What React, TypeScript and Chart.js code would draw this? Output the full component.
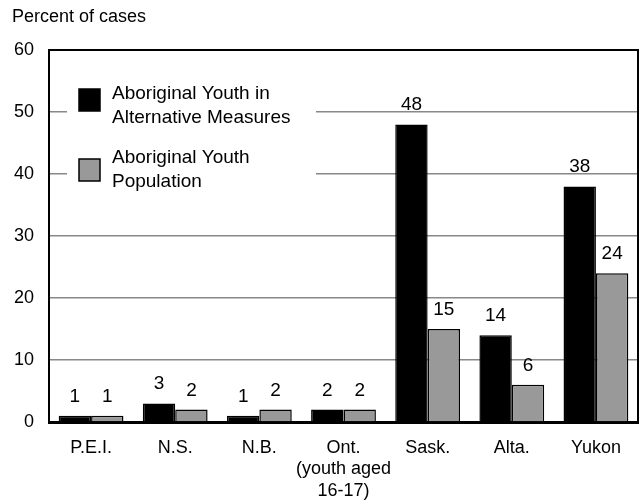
import React, { useEffect, useRef } from "react";
import { Chart, registerables } from "chart.js";

Chart.register(...registerables);

const categories: (string | string[])[] = [
  "P.E.I.",
  "N.S.",
  "N.B.",
  ["Ont.", "(youth aged", "16-17)"],
  "Sask.",
  "Alta.",
  "Yukon",
];
const altMeasures = [1, 3, 1, 2, 48, 14, 38];
const population = [1, 2, 2, 2, 15, 6, 24];
const seriesNames = [
  ["Aboriginal Youth in", "Alternative Measures"],
  ["Aboriginal Youth", "Population"],
];
const yTicks = [0, 10, 20, 30, 40, 50, 60];
const yTitle = "Percent of cases";

const FONT = "'Liberation Sans', Arial, sans-serif";
const BLACK = "#000000";
const GRAY = "#999999";

const overlayPlugin = {
  id: "overlay",
  afterDraw(chart: any) {
    const ctx = chart.ctx;
    const ca = chart.chartArea;
    ctx.save();
    // legend background
    ctx.fillStyle = "#ffffff";
    ctx.fillRect(ca.left + 18, ca.top + 2, 249, 146);
    // legend items
    const colors = [BLACK, GRAY];
    const sqTops = [39, 109];
    const textTops = [44, 108];
    ctx.font = `19px ${FONT}`;
    ctx.textBaseline = "middle";
    ctx.textAlign = "left";
    colors.forEach((c, i) => {
      ctx.fillStyle = c;
      ctx.fillRect(ca.left + 30, ca.top + sqTops[i], 21, 22);
      ctx.strokeStyle = BLACK;
      ctx.lineWidth = 1.5;
      ctx.strokeRect(ca.left + 30, ca.top + sqTops[i], 21, 22);
      ctx.fillStyle = BLACK;
      seriesNames[i].forEach((line, j) => {
        ctx.fillText(line, ca.left + 63, ca.top + textTops[i] + j * 24);
      });
    });
    // data labels
    ctx.font = `19px ${FONT}`;
    ctx.textAlign = "center";
    ctx.textBaseline = "alphabetic";
    ctx.fillStyle = BLACK;
    chart.data.datasets.forEach((ds: any, di: number) => {
      const meta = chart.getDatasetMeta(di);
      meta.data.forEach((el: any, k: number) => {
        ctx.fillText(String(ds.data[k]), el.x, el.y - 14);
      });
    });
    // frame top and right
    ctx.strokeStyle = BLACK;
    ctx.lineWidth = 2;
    ctx.beginPath();
    ctx.moveTo(ca.left, ca.top);
    ctx.lineTo(ca.right, ca.top);
    ctx.lineTo(ca.right, ca.bottom);
    ctx.stroke();
    // title
    ctx.font = `18px ${FONT}`;
    ctx.textAlign = "left";
    ctx.textBaseline = "middle";
    ctx.fillText(yTitle, 12, 17);
    ctx.restore();
  },
};

export default function App() {
  const ref = useRef<HTMLCanvasElement | null>(null);
  useEffect(() => {
    if (!ref.current) return;
    const chart = new Chart(ref.current, {
      type: "bar",
      data: {
        labels: categories as any,
        datasets: [
          {
            label: seriesNames[0].join(" "),
            data: altMeasures,
            backgroundColor: BLACK,
            borderColor: BLACK,
            borderWidth: 1.5,
            categoryPercentage: 0.77,
            barPercentage: 1,
          },
          {
            label: seriesNames[1].join(" "),
            data: population,
            backgroundColor: GRAY,
            borderColor: BLACK,
            borderWidth: 1.5,
            categoryPercentage: 0.77,
            barPercentage: 1,
          },
        ],
      },
      options: {
        responsive: false,
        animation: false,
        layout: { padding: { left: 0, right: 3, top: 50, bottom: 0 } },
        plugins: {
          legend: { display: false },
          tooltip: { enabled: false },
          title: { display: false },
        },
        scales: {
          x: {
            grid: { display: false, drawTicks: false },
            border: { display: true, color: BLACK, width: 3 },
            ticks: {
              color: BLACK,
              font: { family: FONT, size: 18, lineHeight: 1.2 },
              padding: 15,
              maxRotation: 0,
              autoSkip: false,
            },
            afterFit(scale: any) {
              scale.height = 81;
            },
          },
          y: {
            min: 0,
            max: 60,
            afterBuildTicks(scale: any) {
              scale.ticks = yTicks.map((v) => ({ value: v }));
            },
            grid: { color: "#888888", lineWidth: 1.5, drawTicks: false },
            border: { display: true, color: BLACK, width: 2 },
            ticks: {
              color: BLACK,
              font: { family: FONT, size: 18 },
              padding: 15,
            },
            afterFit(scale: any) {
              scale.width = 49;
            },
          },
        },
      },
      plugins: [overlayPlugin],
    });
    return () => chart.destroy();
  }, []);
  return (
    <div style={{ position: "absolute", left: 0, top: 0, width: 641, height: 503 }}>
      <canvas ref={ref} width={641} height={503} />
    </div>
  );
}
